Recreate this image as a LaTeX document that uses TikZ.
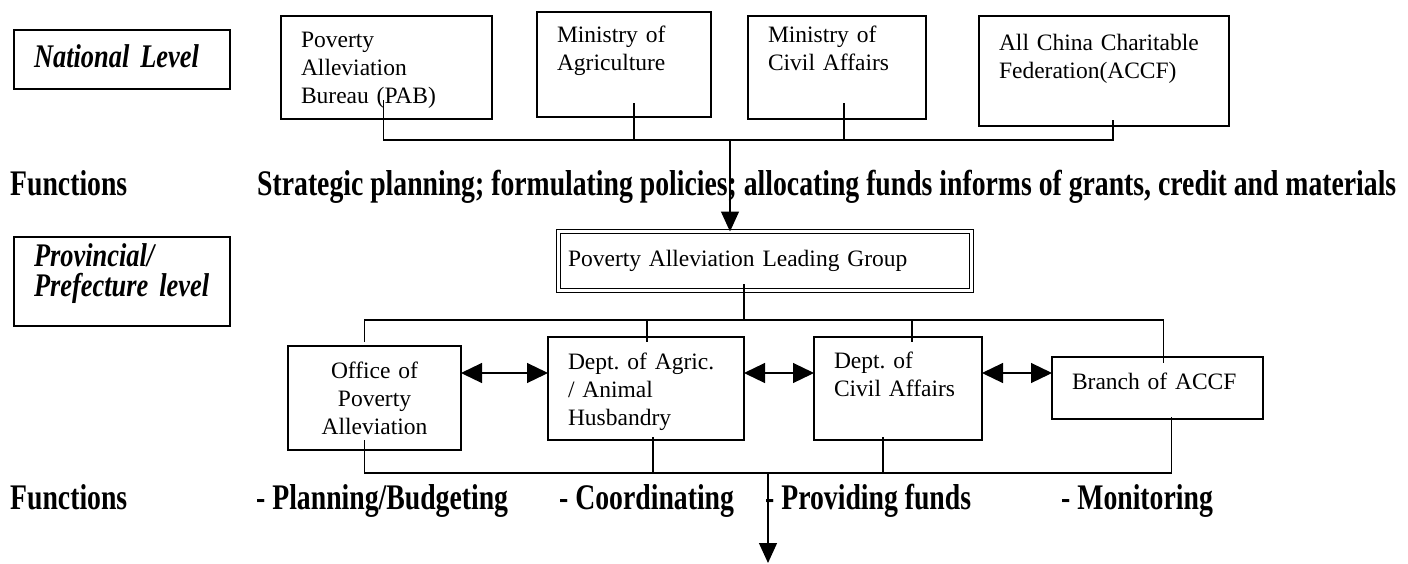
\documentclass[tikz,border=0pt]{standalone}
\usepackage{fontspec}
\setmainfont{Liberation Serif}
\newfontfamily\negrita[FakeStretch=0.77]{Liberation Serif}
\newfontfamily\negritacur[FakeStretch=0.8]{Liberation Serif}
\usetikzlibrary{arrows.meta,positioning}
\frenchspacing
\tikzset{
    bloque/.style={draw,line width=1.4pt,anchor=north west,outer sep=0pt,inner xsep=20pt,inner ysep=0pt,align=left,node font=\fontsize{23.5}{28}\selectfont},
    nivel/.style={bloque,node font=\fontsize{33}{30}\selectfont\negritacur\bfseries\itshape},
    grupo/.style={bloque,double,double distance=2.6pt,line width=1.6pt,inner xsep=9.5pt},
    funcion/.style={anchor=base west,inner sep=0pt,node font=\fontsize{36}{40}\selectfont\negrita\bfseries},
    linea/.style={draw,line width=1.2pt},
    flecha/.style={linea,->,>={Triangle[length=20pt,width=18pt]}},
    doble/.style={linea,<->,>={Triangle[length=21pt,width=20pt]}},
}

\begin{document}
\begin{tikzpicture}[x=1pt,y=-1pt]
    \useasboundingbox (0,0) rectangle (1408,563);
    % niveles
    \node [nivel,text width=176pt,text height=37pt,text depth=22pt] (nacional) at (14,30) {National Level};
    \node [nivel,text width=176pt,text height=29pt,text depth=60pt] (provincial) at (14,237) {Provincial/\\Prefecture level};
    % nivel nacional
    \node [bloque,text width=171pt,text height=31pt,text depth=72pt] (pab) at (281,16) {Poverty\\Alleviation\\Bureau (PAB)};
    \node [bloque,text width=134pt,text height=30pt,text depth=75pt] (agri) at (537,12) {Ministry of\\Agriculture};
    \node [bloque,text width=138pt,text height=26pt,text depth=77pt] (civil) at (748,16) {Ministry of\\Civil Affairs};
    \node [bloque,text width=210pt,text height=34pt,text depth=76pt] (accf) at (979,16) {All China Charitable\\Federation(ACCF)};
    % nivel provincial
    \node [grupo,text width=394pt,text height=34.5pt,text depth=24.5pt] (grupo) at (558.5,231.5) {Poverty Alleviation Leading Group};
    \node [bloque,align=center,text width=133pt,text height=32pt,text depth=72pt] (oficina) at (288,346) {Office of\\Poverty\\Alleviation};
    \node [bloque,text width=156pt,text height=32pt,text depth=71pt] (dagri) at (548,337) {Dept. of Agric.\\/ Animal\\Husbandry};
    \node [bloque,text width=128pt,text height=31pt,text depth=72pt] (dcivil) at (814,337) {Dept. of\\Civil Affairs};
    \node [bloque,text width=171pt,text height=32pt,text depth=30pt] (rama) at (1052,357) {Branch of ACCF};
    % funciones
    \node [funcion] (fun1) at (10,195) {Functions};
    \node [funcion] (obj1) at (257,195) {Strategic planning; formulating policies; allocating funds informs of grants, credit and materials};
    \node [funcion] (fun2) at (10,509) {Functions};
    \node [funcion] (plan) at (256,509) {- Planning/Budgeting};
    \node [funcion] (coord) at (559,509) {- Coordinating};
    \node [funcion] (fondos) at (765,509) {- Providing funds};
    \node [funcion] (monit) at (1061,509) {- Monitoring};
    % lineas nacionales
    \coordinate (bus1) at (730,140);
    \draw [linea] ([xshift=-3pt,yshift=19pt]pab.south) |- ([xshift=9pt]accf.south |- bus1) -- ([xshift=9pt,yshift=6pt]accf.south);
    \draw [linea] ([xshift=10pt,yshift=14pt]agri.south) -- ([xshift=10pt]agri.south |- bus1);
    \draw [linea] ([xshift=7pt,yshift=16pt]civil.south) -- ([xshift=7pt]civil.south |- bus1);
    \path [flecha] (bus1) -- (bus1 |- grupo.north);
    % lineas provinciales
    \coordinate (bus2) at (744,320);
    \draw [linea] ([xshift=-21pt,yshift=6.5pt]grupo.south) -- (bus2);
    \draw [linea] ([xshift=-10pt,yshift=4pt]oficina.north) |- ([xshift=6pt]rama.north |- bus2) -- ([xshift=6pt,yshift=-6pt]rama.north);
    \draw [linea] ([xshift=1pt]dagri.north |- bus2) -- ([xshift=1pt,yshift=-5pt]dagri.north);
    \draw [linea] ([xshift=14pt]dcivil.north |- bus2) -- ([xshift=14pt,yshift=-5pt]dcivil.north);
    \coordinate (fila) at (0,373);
    \path [doble] (oficina.east |- fila) -- (dagri.west |- fila);
    \path [doble] (dagri.east |- fila) -- (dcivil.west |- fila);
    \path [doble] (dcivil.east |- fila) -- (rama.west |- fila);
    % salida
    \coordinate (bus3) at (768,473);
    \coordinate (fin) at (768,563);
    \draw [linea] ([xshift=-10pt,yshift=10pt]oficina.south) |- ([xshift=14pt]rama.south |- bus3) -- ([xshift=14pt,yshift=2pt]rama.south);
    \draw [linea] ([xshift=7pt,yshift=3pt]dagri.south) -- ([xshift=7pt]dagri.south |- bus3);
    \draw [linea] ([xshift=-15pt,yshift=3pt]dcivil.south) -- ([xshift=-15pt]dcivil.south |- bus3);
    \path [flecha] (bus3) -- (fin);
\end{tikzpicture}
\end{document}
